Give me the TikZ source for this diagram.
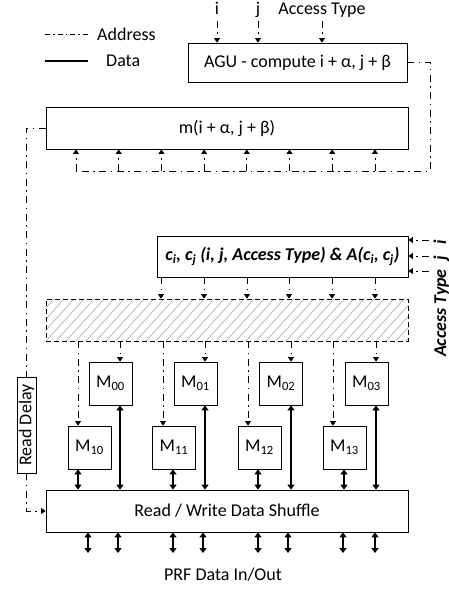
\documentclass[tikz,border=0pt]{standalone}
\usepackage{fontspec}
\setmainfont{Carlito}
\usetikzlibrary{arrows.meta}
\begin{document}
\begin{tikzpicture}[x=1pt,y=-1pt,
  font=\fontsize{18}{21}\selectfont,
  box/.style={draw,line width=0.8pt,inner sep=0pt,align=center},
  addr/.style={line width=0.7pt,dash pattern=on 7pt off 4.5pt on 1.5pt off 4.5pt},
  aarrow/.style={addr,-{Triangle[length=4.5pt,width=6pt]}},
  data/.style={line width=1.8pt},
  darrow/.style={data,{Triangle[length=5pt,width=7pt]}-{Triangle[length=5pt,width=7pt]}},
  lbl/.style={inner sep=0pt},
  rlbl/.style={inner sep=0pt,rotate=90,font=\fontsize{18}{21}\selectfont\bfseries\itshape},
  hatchline/.style={gray!80,line width=0.5pt},
  mbox/.style={box,minimum width=43pt,minimum height=43pt}]
\useasboundingbox (0,0) rectangle (449,591);

% legend
\coordinate (la1) at (45,34); \coordinate (la2) at (88,34);
\draw[addr,dash pattern=on 5pt off 3pt on 1.5pt off 3pt] (la1) -- (la2);
\node[lbl,anchor=west] (lat) at (97,34) {Address};
\coordinate (ld1) at (45,61); \coordinate (ld2) at (88,61);
\draw[data] (ld1) -- (ld2);
\node[lbl,anchor=west] (ldt) at (106,61) {Data};

% AGU
\node[box,minimum width=219pt,minimum height=39pt] (AGU) at (297.5,62.5) {AGU - compute i + α, j + β};
\node[lbl,anchor=base] (ti) at (217,15) {i};
\node[lbl,anchor=base] (tj) at (258,15) {j};
\node[lbl,anchor=base] (tat) at (322,15) {Access Type};
\foreach \x/\n in {217/i,258/j,322/a}{
  \coordinate (top\n) at (\x,21);
  \draw[aarrow] (top\n) -- (top\n |- AGU.north);
}

% m box
\node[box,minimum width=362pt,minimum height=42pt] (m) at (227,128) {m(i + α, j + β)};
\coordinate (loopc) at (430,171);
\coordinate (loope) at (76,171);
\draw[addr] (AGU.east) -| (loopc) -- (loope);
\foreach \x [count=\i] in {76,118.7,161.4,204.1,246.8,289.5,332.2,374.9}{
  \coordinate (mb\i) at (\x,171);
  \draw[aarrow] (mb\i) -- (mb\i |- m.south);
}

% read delay
\node[box,minimum width=19pt,minimum height=96pt] (RD) at (26.5,425) {};
\node[lbl,rotate=90] (RDt) at (RD.center) {Read Delay};
\draw[addr] (m.west) -| (RD.north);

% c box
\node[box,minimum width=251pt,minimum height=41pt,font=\fontsize{18}{21}\selectfont\bfseries\itshape] (cbox) at (282.5,256.5)
  {c\textsubscript{i}, c\textsubscript{j} (i, j, Access Type) \& A(c\textsubscript{i}, c\textsubscript{j})};
\foreach \y/\n in {240/i,256/j,271/a}{
  \coordinate (cr\n) at (429,\y);
  \draw[aarrow] (cr\n) -- (cr\n -| cbox.east);
}
\node[rlbl,anchor=base] (ri) at (446,242) {i};
\node[rlbl,anchor=base] (rj) at (446,258) {j};
\node[rlbl,anchor=base east] (rat) at (446,269) {Access Type};

% hatched box
\node[box,dashed,dash pattern=on 5pt off 3pt,minimum width=362pt,minimum height=42pt] (hatch) at (227,320) {};
\begin{scope}
  \clip (hatch.north west) rectangle (hatch.south east);
  \foreach \k in {0,...,42}{
    \draw[hatchline] (6+\k*10,341) -- ++(38,-42);
  }
\end{scope}
\node[box,dashed,dash pattern=on 5pt off 3pt,minimum width=362pt,minimum height=42pt] at (hatch.center) {};
\foreach \x [count=\i] in {161,204,247,289,332,375}{
  \coordinate (cb\i) at (\x,277);
  \draw[aarrow] (cb\i |- cbox.south) -- (cb\i |- hatch.north);
}

% shuffle
\node[box,minimum width=362pt,minimum height=42pt] (shuffle) at (227,511) {Read / Write Data Shuffle};
\draw[aarrow] (RD.south) |- (shuffle.west);

% M boxes
\foreach \x/\k in {110.5/0,195.5/1,281/2,366.5/3}{
  \node[mbox] (M0\k) at (\x,383.5) {M\textsubscript{0\k}};
}
\foreach \x/\k in {89.5/0,174/1,259.5/2,344.5/3}{
  \node[mbox] (M1\k) at (\x,447.5) {M\textsubscript{1\k}};
}
\foreach \x/\k in {120/0,205/1,291/2,376/3}{
  \coordinate (a0\k) at (\x,341);
  \draw[aarrow] (a0\k |- hatch.south) -- (a0\k |- M0\k.north);
  \draw[darrow] (a0\k |- M0\k.south) -- (a0\k |- shuffle.north);
}
\foreach \x/\k in {78/0,163/1,248/2,333/3}{
  \coordinate (a1\k) at (\x,341);
  \draw[aarrow] (a1\k |- hatch.south) -- (a1\k |- M1\k.north);
}
\foreach \x/\k in {78/0,173/1,258/2,344/3}{
  \coordinate (d1\k) at (\x,469);
  \draw[darrow] (d1\k |- M1\k.south) -- (d1\k |- shuffle.north);
}
\foreach \x [count=\i] in {88,118,173,203,258,288,343,375}{
  \coordinate (bo\i) at (\x,553);
  \draw[darrow] (bo\i |- shuffle.south) -- (bo\i);
}
\node[lbl] (prf) at (223,575) {PRF Data In/Out};
\end{tikzpicture}
\end{document}
